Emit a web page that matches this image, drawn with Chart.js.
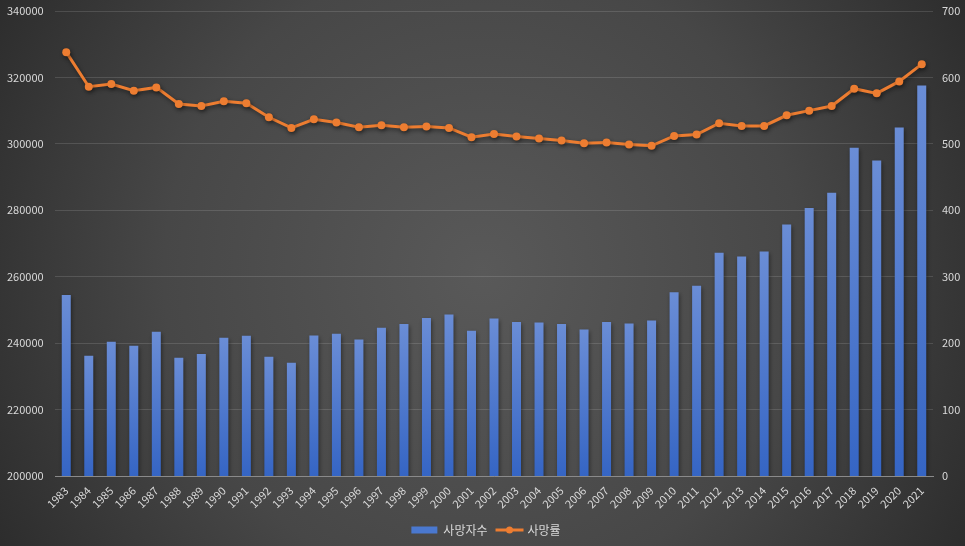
<!DOCTYPE html>
<html>
<head>
<meta charset="utf-8">
<script src="https://cdn.jsdelivr.net/npm/chart.js@4"></script>
<style>
  html, body { margin: 0; padding: 0; background: #3a3a3a; }
  #wrap { position: relative; width: 965px; height: 546px; }
</style>
</head>
<body>
<div id="wrap"><canvas id="chart"></canvas></div>
<script>
// data
var years = ['1983','1984','1985','1986','1987','1988','1989','1990','1991','1992',
             '1993','1994','1995','1996','1997','1998','1999','2000','2001','2002',
             '2003','2004','2005','2006','2007','2008','2009','2010','2011','2012',
             '2013','2014','2015','2016','2017','2018','2019','2020','2021'];

var deaths = [254500, 236200, 240400, 239200, 243400, 235600, 236700, 241600, 242200, 235900,
              234100, 242300, 242800, 241100, 244600, 245800, 247600, 248600, 243700, 247400,
              246400, 246200, 245800, 244100, 246400, 245900, 246800, 255300, 257300, 267200,
              266100, 267600, 275700, 280700, 285300, 298800, 295000, 304900, 317600];

var deathRate = [638, 586, 590, 580, 585, 560, 557, 564, 561, 540,
                 524, 537, 532, 525, 528, 525, 526, 524, 510, 515,
                 511, 508, 505, 501, 502, 499, 497, 512, 514, 531,
                 527, 527, 543, 550, 557, 583, 576, 594, 620];

var seriesNames = ['사망자수', '사망률'];

var leftTicks = { min: 200000, max: 340000, step: 20000 };
var rightTicks = { min: 0, max: 700, step: 100 };

var textColor = '#d9d9d9';
var gridColor = 'rgba(255,255,255,0.13)';
var orange = '#ed7d31';

Chart.defaults.font.family = "'Noto Sans CJK KR', 'Noto Sans', sans-serif";
Chart.defaults.color = textColor;

// dark radial background
var bgPlugin = {
    id: 'bg',
    beforeDraw: function(chart) {
        var ctx = chart.ctx;
        var w = chart.width, h = chart.height;
        var g = ctx.createRadialGradient(w * 0.5, h * 0.5, 0, w * 0.5, h * 0.5, w * 0.6);
        g.addColorStop(0, '#595959');
        g.addColorStop(0.55, '#474747');
        g.addColorStop(1, '#2a2a2a');
        ctx.save();
        ctx.fillStyle = g;
        ctx.fillRect(0, 0, w, h);
        ctx.restore();
    }
};

// soft shadow under bars and line
var shadowPlugin = {
    id: 'shadow',
    beforeDatasetDraw: function(chart) {
        var ctx = chart.ctx;
        ctx.save();
        ctx.shadowColor = 'rgba(0,0,0,0.45)';
        ctx.shadowBlur = 4;
        ctx.shadowOffsetX = 1;
        ctx.shadowOffsetY = 2;
    },
    afterDatasetDraw: function(chart) {
        chart.ctx.restore();
    }
};

// line-with-dot marker for the 2nd legend item
var legendMarker = {
    id: 'legendMarker',
    afterDraw: function(chart) {
        var boxes = chart.legend && chart.legend.legendHitBoxes;
        if (!boxes || !boxes[1]) return;
        var b = boxes[1];
        var ctx = chart.ctx;
        var y = b.top + b.height / 2;
        ctx.save();
        ctx.strokeStyle = orange;
        ctx.lineWidth = 3;
        ctx.beginPath();
        ctx.moveTo(b.left, y);
        ctx.lineTo(b.left + 28, y);
        ctx.stroke();
        ctx.fillStyle = orange;
        ctx.beginPath();
        ctx.arc(b.left + 14, y, 3.5, 0, Math.PI * 2);
        ctx.fill();
        ctx.restore();
    }
};

function barGradient(context) {
    var chart = context.chart;
    var area = chart.chartArea;
    if (!area || context.raw == null) return '#4a78cf';
    var top = chart.scales.y.getPixelForValue(context.raw);
    var g = chart.ctx.createLinearGradient(0, top, 0, area.bottom);
    g.addColorStop(0, '#6a8dd6');
    g.addColorStop(1, '#3565c4');
    return g;
}

function plain(v) { return String(v); }

var ctx = document.getElementById('chart');
new Chart(ctx, {
    type: 'bar',
    data: {
        labels: years,
        datasets: [{
            type: 'bar',
            label: seriesNames[0],
            data: deaths,
            yAxisID: 'y',
            backgroundColor: barGradient,
            borderWidth: 0,
            categoryPercentage: 0.8,
            barPercentage: 0.5
        }, {
            type: 'line',
            label: seriesNames[1],
            data: deathRate,
            yAxisID: 'y1',
            borderColor: orange,
            backgroundColor: orange,
            borderWidth: 3,
            pointRadius: 4,
            pointBackgroundColor: orange,
            pointBorderWidth: 0,
            tension: 0
        }]
    },
    options: {
        responsive: true,
        maintainAspectRatio: false,
        animation: false,
        layout: { autoPadding: false, padding: { top: 11, bottom: 0, left: 7, right: 0 } },
        plugins: {
            legend: {
                display: true,
                position: 'bottom',
                labels: {
                    boxWidth: 26,
                    boxHeight: 7,
                    padding: 8,
                    color: textColor,
                    font: { size: 12 },
                    generateLabels: function(chart) {
                        return [{
                            text: seriesNames[0],
                            fillStyle: '#4a78cf',
                            strokeStyle: 'rgba(0,0,0,0)',
                            lineWidth: 0,
                            fontColor: textColor,
                            datasetIndex: 0
                        }, {
                            text: seriesNames[1],
                            fillStyle: 'rgba(0,0,0,0)',
                            strokeStyle: 'rgba(0,0,0,0)',
                            lineWidth: 0,
                            fontColor: textColor,
                            datasetIndex: 1
                        }];
                    }
                }
            },
            tooltip: { enabled: false }
        },
        scales: {
            x: {
                offset: true,
                grid: { display: false },
                border: { display: true, color: '#8a8a8a', width: 1 },
                ticks: {
                    color: textColor,
                    font: { size: 11 },
                    maxRotation: 45,
                    minRotation: 45,
                    autoSkip: false,
                    padding: 0
                },
                afterFit: function(scale) { scale.height = 40; }
            },
            y: {
                position: 'left',
                min: leftTicks.min,
                max: leftTicks.max,
                ticks: {
                    stepSize: leftTicks.step,
                    color: textColor,
                    font: { size: 11 },
                    padding: 0,
                    crossAlign: 'far',
                    callback: plain
                },
                grid: { color: gridColor, drawTicks: true, tickLength: 12, tickColor: 'rgba(0,0,0,0)' },
                border: { display: false },
                afterFit: function(scale) { scale.width = 48; }
            },
            y1: {
                position: 'right',
                min: rightTicks.min,
                max: rightTicks.max,
                ticks: {
                    stepSize: rightTicks.step,
                    color: textColor,
                    font: { size: 11 },
                    padding: 0,
                    callback: plain
                },
                grid: { display: true, drawOnChartArea: false, drawTicks: true, tickLength: 9, tickColor: 'rgba(0,0,0,0)' },
                border: { display: false },
                afterFit: function(scale) { scale.width = 32; }
            }
        }
    },
    plugins: [bgPlugin, shadowPlugin, legendMarker]
});
</script>
</body>
</html>
